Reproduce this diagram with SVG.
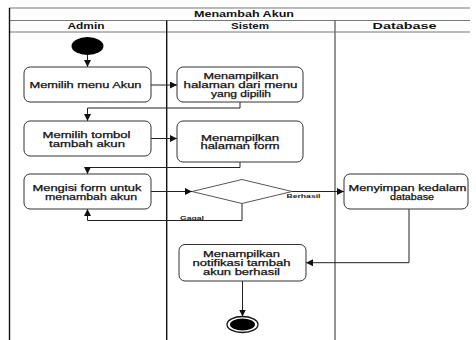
<svg xmlns="http://www.w3.org/2000/svg" width="476" height="340" viewBox="0 0 476 340">
<style>
.frame{stroke:#777;stroke-width:1.2;fill:none}
.lane{stroke:#111;stroke-width:1.4;fill:none}
.lane2{stroke:#666;stroke-width:1.4;fill:none}
.box{fill:#fff;stroke:#333;stroke-width:1}
.t{font-family:"Liberation Sans",Arial,sans-serif;font-size:8.7px;fill:#111;stroke:#111;stroke-width:0.25;text-anchor:middle}
.h{font-family:"Liberation Sans",Arial,sans-serif;font-size:8.5px;font-weight:bold;fill:#111;text-anchor:middle}
.s{font-family:"Liberation Sans",Arial,sans-serif;font-size:6px;font-weight:bold;fill:#222;text-anchor:middle}
.c{fill:none;stroke:#222;stroke-width:1}
</style>
<defs>
<marker id="arr" markerUnits="userSpaceOnUse" markerWidth="8" markerHeight="8" refX="7" refY="3.5" orient="auto">
<path d="M0,0 L7,3.5 L0,7 Z" fill="#111"/>
</marker>
</defs>
<rect width="476" height="340" fill="#fff"/>
<g id="swimlanes">
<line class="frame" x1="9" y1="8" x2="470" y2="8"/>
<line class="frame" x1="9" y1="20.5" x2="470" y2="20.5"/>
<line class="frame" x1="9" y1="32" x2="470" y2="32"/>
<line class="lane" x1="9.5" y1="8" x2="9.5" y2="340"/>
<line class="lane" x1="166.7" y1="20.5" x2="166.7" y2="340"/>
<line class="lane2" x1="335" y1="20.5" x2="335" y2="340"/>
<text class="h" x="244" y="17.3" textLength="100" lengthAdjust="spacingAndGlyphs">Menambah Akun</text>
<text class="h" x="86" y="29" textLength="37" lengthAdjust="spacingAndGlyphs">Admin</text>
<text class="h" x="250" y="29" textLength="38" lengthAdjust="spacingAndGlyphs">Sistem</text>
<text class="h" x="404.5" y="29" textLength="64" lengthAdjust="spacingAndGlyphs">Database</text>
</g>
<g id="connectors">
<path class="c" d="M87.5,55 V67" marker-end="url(#arr)"/>
<path class="c" d="M151,85 H177" marker-end="url(#arr)"/>
<path class="c" d="M240,102 V108 H87.5 V121" marker-end="url(#arr)"/>
<path class="c" d="M151,138.5 H177" marker-end="url(#arr)"/>
<path class="c" d="M240,162 V167.5 H87.5 V174" marker-end="url(#arr)"/>
<path class="c" d="M151,191.5 H192" marker-end="url(#arr)"/>
<path class="c" d="M292,191.5 H344" marker-end="url(#arr)"/>
<path class="c" d="M242,203.5 V220.5 H87.5 V209" marker-end="url(#arr)"/>
<path class="c" d="M409,209 V262.7 H306" marker-end="url(#arr)"/>
<path class="c" d="M242.5,281 V316.5" marker-end="url(#arr)"/>
<text class="s" x="303.5" y="198" textLength="34" lengthAdjust="spacingAndGlyphs">Berhasil</text>
<text class="s" x="192" y="220" textLength="24" lengthAdjust="spacingAndGlyphs">Gagal</text>
</g>
<g id="start">
<ellipse cx="87.5" cy="46" rx="16" ry="9" fill="#000"/>
</g>
<g id="memilih-menu">
<rect class="box" x="24" y="67" width="127" height="35" rx="6"/>
<text class="t" x="85.5" y="88" textLength="112" lengthAdjust="spacingAndGlyphs">Memilih menu Akun</text>
</g>
<g id="tampil-halaman">
<rect class="box" x="177" y="67" width="126" height="35" rx="6"/>
<text class="t" x="241" y="79" textLength="75" lengthAdjust="spacingAndGlyphs">Menampilkan</text>
<text class="t" x="240.5" y="88" textLength="114" lengthAdjust="spacingAndGlyphs">halaman dari menu</text>
<text class="t" x="241" y="96.5" textLength="60" lengthAdjust="spacingAndGlyphs">yang dipilih</text>
</g>
<g id="memilih-tombol">
<rect class="box" x="24" y="121" width="127" height="35" rx="6"/>
<text class="t" x="86.5" y="137.5" textLength="88" lengthAdjust="spacingAndGlyphs">Memilih tombol</text>
<text class="t" x="87" y="146.5" textLength="76" lengthAdjust="spacingAndGlyphs">tambah akun</text>
</g>
<g id="tampil-form">
<rect class="box" x="177" y="121" width="126" height="41" rx="6"/>
<text class="t" x="240" y="140.5" textLength="78" lengthAdjust="spacingAndGlyphs">Menampilkan</text>
<text class="t" x="240" y="149" textLength="79" lengthAdjust="spacingAndGlyphs">halaman form</text>
</g>
<g id="mengisi-form">
<rect class="box" x="24" y="174" width="127" height="35" rx="6"/>
<text class="t" x="87" y="190.5" textLength="109" lengthAdjust="spacingAndGlyphs">Mengisi form untuk</text>
<text class="t" x="91" y="200" textLength="92" lengthAdjust="spacingAndGlyphs">menambah akun</text>
</g>
<g id="decision">
<polygon points="192,191.5 242,179.5 292,191.5 242,203.5" fill="#fff" stroke="#555" stroke-width="1"/>
</g>
<g id="menyimpan">
<rect class="box" x="344" y="174" width="124" height="35" rx="6"/>
<text class="t" x="407.5" y="190.5" textLength="118" lengthAdjust="spacingAndGlyphs">Menyimpan kedalam</text>
<text class="t" x="412" y="199.7" textLength="44" lengthAdjust="spacingAndGlyphs">database</text>
</g>
<g id="notifikasi">
<rect class="box" x="179" y="244.5" width="127" height="36.5" rx="6"/>
<text class="t" x="241.5" y="257" textLength="77" lengthAdjust="spacingAndGlyphs">Menampilkan</text>
<text class="t" x="241.5" y="266" textLength="98" lengthAdjust="spacingAndGlyphs">notifikasi tambah</text>
<text class="t" x="241.5" y="274.5" textLength="77" lengthAdjust="spacingAndGlyphs">akun berhasil</text>
</g>
<g id="end">
<ellipse cx="242.5" cy="324.5" rx="15.5" ry="8" fill="#fff" stroke="#111" stroke-width="1.3"/>
<ellipse cx="242.5" cy="324.5" rx="12.5" ry="6" fill="#000"/>
</g>
</svg>
